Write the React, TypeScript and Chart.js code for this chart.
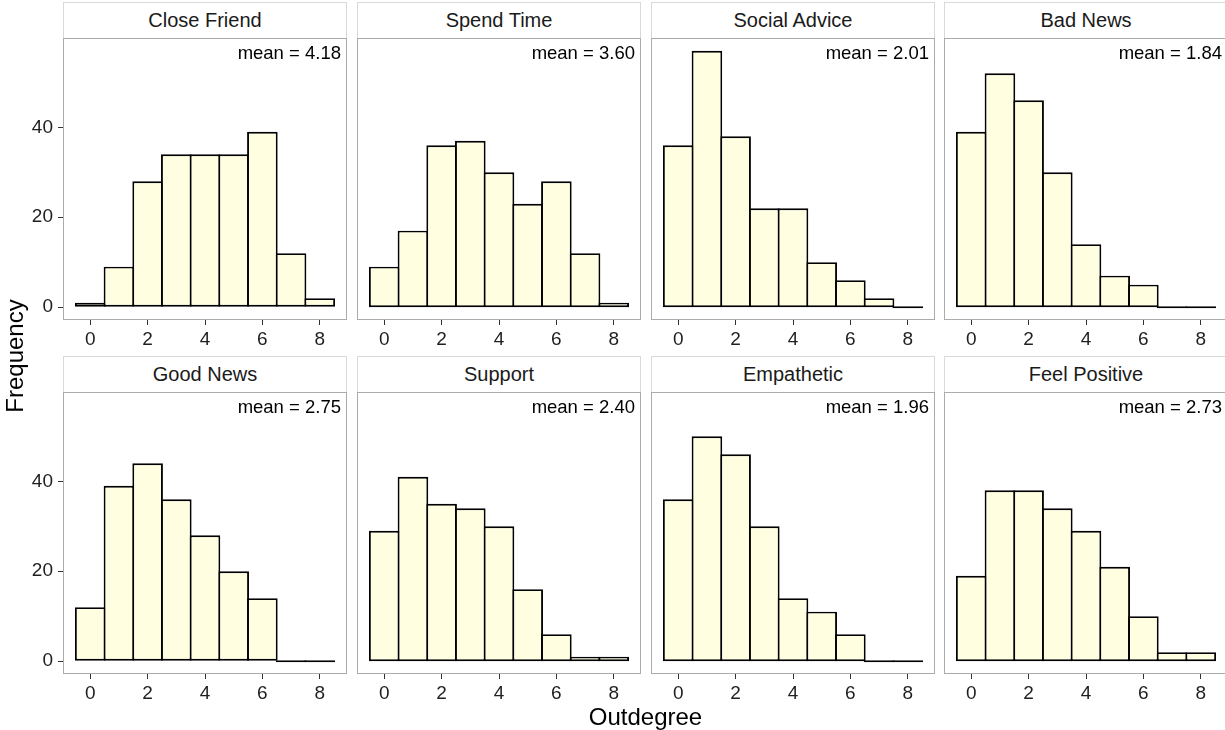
import React, { useEffect, useRef } from "react";
import { Chart, registerables } from "chart.js";

Chart.register(...registerables);

// ---------- data ----------
const PANEL_TITLES = [
  "Close Friend",
  "Spend Time",
  "Social Advice",
  "Bad News",
  "Good News",
  "Support",
  "Empathetic",
  "Feel Positive",
];
const BINS = [0, 1, 2, 3, 4, 5, 6, 7, 8];
const CLOSE_FRIEND = [1, 9, 28, 34, 34, 34, 39, 12, 2];
const SPEND_TIME = [9, 17, 36, 37, 30, 23, 28, 12, 1];
const SOCIAL_ADVICE = [36, 57, 38, 22, 22, 10, 6, 2, 0];
const BAD_NEWS = [39, 52, 46, 30, 14, 7, 5, 0, 0];
const GOOD_NEWS = [12, 39, 44, 36, 28, 20, 14, 0, 0];
const SUPPORT = [29, 41, 35, 34, 30, 16, 6, 1, 1];
const EMPATHETIC = [36, 50, 46, 30, 14, 11, 6, 0, 0];
const FEEL_POSITIVE = [19, 38, 38, 34, 29, 21, 10, 2, 2];
const SERIES = [
  CLOSE_FRIEND,
  SPEND_TIME,
  SOCIAL_ADVICE,
  BAD_NEWS,
  GOOD_NEWS,
  SUPPORT,
  EMPATHETIC,
  FEEL_POSITIVE,
];
const X_TICKS = [0, 2, 4, 6, 8];
const Y_TICKS = [0, 20, 40];
const X_TITLE = "Outdegree";
const Y_TITLE = "Frequency";

// ---------- derived scale ranges (ggplot-like 5% expansion) ----------
const MAX_COUNT = Math.max(...SERIES.map((s) => Math.max(...s)));
const Y_MIN = -0.05 * MAX_COUNT;
const Y_MAX = MAX_COUNT * 1.05;
const X_SPAN = BINS[BINS.length - 1] - BINS[0] + 1;
const X_MIN = BINS[0] - 0.5 - 0.05 * X_SPAN;
const X_MAX = BINS[BINS.length - 1] + 0.5 + 0.05 * X_SPAN;

function meanOf(counts: number[]) {
  let n = 0;
  let s = 0;
  counts.forEach((c, i) => {
    n += c;
    s += c * BINS[i];
  });
  return (s / n).toFixed(2);
}

// ---------- layout ----------
const FONT = "'Liberation Sans', Arial, Helvetica, sans-serif";
const PANEL_W = 284;
const PANEL_H = 282;
const PANEL_STEP = 293.8;
const PANEL_LEFT0 = 63;
const ROW_TOPS = [38, 392];
const STRIP_H = 36;
const X_AXIS_H = 40;
const Y_AXIS_W = 63;
const PANEL_BORDER = "#ABABAB";
const BAR_BORDER = 1.9;

const panelPlugin = {
  id: "panelDecor",
  afterDraw(chart: any, _args: any, opts: any) {
    const { ctx, chartArea } = chart;
    const { left, top, right, bottom } = chartArea;
    ctx.save();
    ctx.strokeStyle = PANEL_BORDER;
    ctx.lineWidth = 1;
    ctx.strokeRect(left + 0.5, top + 0.5, right - left - 1, bottom - top - 1);
    ctx.fillStyle = "#000000";
    ctx.font = `18.5px ${FONT}`;
    ctx.textAlign = "right";
    ctx.textBaseline = "alphabetic";
    ctx.fillText(opts.label, right - 6, top + 20.5);
    ctx.restore();
  },
};

function Panel({ idx }: { idx: number }) {
  const ref = useRef<HTMLCanvasElement>(null);
  const col = idx % 4;
  const row = Math.floor(idx / 4);
  const counts = SERIES[idx];
  const panelLeft = Math.round(PANEL_LEFT0 + col * PANEL_STEP);
  const panelTop = ROW_TOPS[row];
  const canvasLeft = col === 0 ? panelLeft - Y_AXIS_W : panelLeft;
  const canvasW = col === 0 ? PANEL_W + Y_AXIS_W : PANEL_W;
  const canvasH = PANEL_H + X_AXIS_H;
  const unitPx = PANEL_W / (X_MAX - X_MIN);

  useEffect(() => {
    const tickFont = { family: FONT, size: 19 };
    const chart = new Chart(ref.current as HTMLCanvasElement, {
      type: "bar",
      data: {
        datasets: [
          {
            data: BINS.map((b, i) => ({ x: b, y: counts[i] })),
            backgroundColor: "#FFFEE0",
            borderColor: "#000000",
            borderWidth: BAR_BORDER,
            borderSkipped: false,
            barPercentage: (unitPx + BAR_BORDER) / unitPx,
            categoryPercentage: 1,
            minBarLength: 2,
          } as any,
        ],
      },
      options: {
        responsive: false,
        animation: false,
        events: [],
        layout: { padding: 0 },
        plugins: {
          legend: { display: false },
          tooltip: { enabled: false },
          title: { display: false },
          panelDecor: { label: `mean = ${meanOf(counts)}` },
        } as any,
        scales: {
          x: {
            type: "linear",
            offset: false,
            min: X_MIN,
            max: X_MAX,
            afterBuildTicks: (s: any) => {
              s.ticks = X_TICKS.map((v) => ({ value: v }));
            },
            afterFit: (s: any) => {
              s.height = X_AXIS_H;
              s.paddingLeft = 0;
              s.paddingRight = 0;
            },
            grid: {
              display: true,
              offset: false,
              drawOnChartArea: false,
              drawTicks: true,
              tickLength: 5,
              tickColor: "#333333",
              tickWidth: 1,
            },
            border: { display: false },
            ticks: {
              padding: 3,
              color: "#1F1F1F",
              font: tickFont,
              maxRotation: 0,
              autoSkip: false,
              callback: (v: any) => String(v),
            },
          },
          y: {
            type: "linear",
            display: col === 0,
            min: Y_MIN,
            max: Y_MAX,
            afterBuildTicks: (s: any) => {
              s.ticks = Y_TICKS.map((v) => ({ value: v }));
            },
            afterFit: (s: any) => {
              s.width = col === 0 ? Y_AXIS_W : 0;
              s.paddingTop = 0;
              s.paddingBottom = 0;
            },
            grid: {
              display: true,
              drawOnChartArea: false,
              drawTicks: true,
              tickLength: 5,
              tickColor: "#333333",
              tickWidth: 1,
            },
            border: { display: false },
            ticks: {
              padding: 5,
              color: "#1F1F1F",
              font: tickFont,
              autoSkip: false,
              callback: (v: any) => String(v),
            },
          },
        } as any,
      },
      plugins: [panelPlugin as any],
    });
    return () => chart.destroy();
  }, []);

  return (
    <>
      <div
        style={{
          position: "absolute",
          left: panelLeft,
          top: panelTop - STRIP_H,
          width: PANEL_W,
          height: STRIP_H,
          boxSizing: "border-box",
          border: "1px solid #D9D9D9",
          borderBottom: "none",
          background: "#FFFFFF",
          display: "flex",
          alignItems: "center",
          justifyContent: "center",
          fontFamily: FONT,
          fontSize: 20,
          color: "#1A1A1A",
          whiteSpace: "nowrap",
        }}
      >
        {PANEL_TITLES[idx]}
      </div>
      <canvas
        ref={ref}
        width={canvasW}
        height={canvasH}
        style={{
          position: "absolute",
          left: canvasLeft,
          top: panelTop,
          width: canvasW,
          height: canvasH,
        }}
      />
    </>
  );
}

export default function App() {
  return (
    <div
      style={{
        position: "fixed",
        left: 0,
        top: 0,
        width: 1225,
        height: 730,
        overflow: "hidden",
        background: "#FFFFFF",
      }}
    >
      {PANEL_TITLES.map((_, i) => (
        <Panel key={i} idx={i} />
      ))}
      <div
        style={{
          position: "absolute",
          left: 645.5 - 150,
          top: 702,
          width: 300,
          height: 30,
          lineHeight: "30px",
          textAlign: "center",
          fontFamily: FONT,
          fontSize: 24,
          color: "#000000",
        }}
      >
        {X_TITLE}
      </div>
      <div
        style={{
          position: "absolute",
          left: 14.5 - 150,
          top: 356 - 15,
          width: 300,
          height: 30,
          lineHeight: "30px",
          textAlign: "center",
          fontFamily: FONT,
          fontSize: 24,
          color: "#000000",
          transform: "rotate(-90deg)",
          transformOrigin: "50% 50%",
        }}
      >
        {Y_TITLE}
      </div>
    </div>
  );
}
